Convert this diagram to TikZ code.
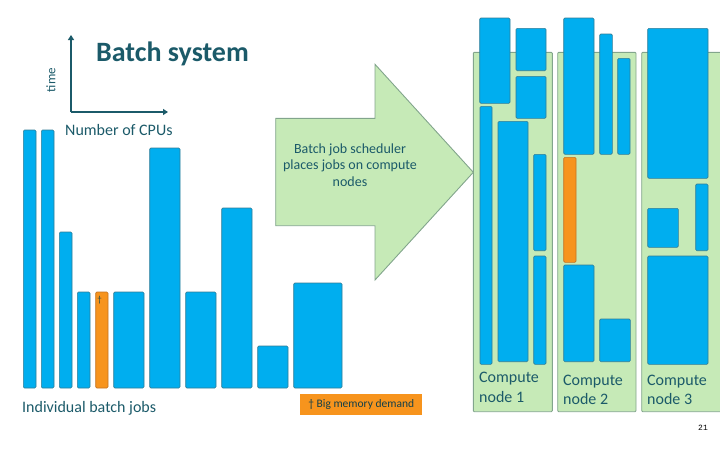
\documentclass[tikz,border=0pt]{standalone}
\usepackage{fontspec}
\setmainfont{Carlito}
\newfontfamily\monofnt{Liberation Mono}
\usetikzlibrary{arrows.meta}
\definecolor{jobblue}{RGB}{0,174,239}
\definecolor{jobedge}{RGB}{50,125,150}
\definecolor{memorange}{RGB}{247,148,29}
\definecolor{oredge}{RGB}{195,115,35}
\definecolor{nodegreen}{RGB}{198,234,183}
\definecolor{greenedge}{RGB}{130,165,140}
\definecolor{tealtext}{RGB}{27,90,105}
\tikzset{
  job/.style={draw=jobedge, fill=jobblue, line width=0.6pt, rounded corners=1.2pt, inner sep=0pt, outer sep=0pt},
  bigmem/.style={job, draw=oredge, fill=memorange},
  panel/.style={draw=greenedge, fill=nodegreen, line width=0.9pt, rounded corners=1pt, inner sep=0pt, outer sep=0pt},
  lbl/.style={text=tealtext, inner sep=0pt},
  axisline/.style={draw=tealtext, line width=1.4pt, -{Triangle[length=5pt,width=6pt]}},
  bigarrow/.style={draw=greenedge, fill=nodegreen, line width=0.9pt, line join=miter},
  panellbl/.style={lbl, anchor=base west, align=left, font=\fontsize{16}{19.5}\selectfont},
}
\newcommand{\rectnode}[6]{\node[#2, anchor=north west, minimum width={(#5)-(#3)}, minimum height={(#6)-(#4)}] (#1) at (#3,#4) {};}
\begin{document}
\begin{tikzpicture}[x=1pt,y=-1pt]
\useasboundingbox (0,0) rectangle (720,450);
% axes
\coordinate (origin) at (71,112);
\coordinate (ytop) at (71,35);
\coordinate (xend) at (168,112);
\draw[axisline] (origin) -- (ytop);
\draw[axisline] (origin) -- (xend);
\node[lbl, rotate=90, font=\fontsize{13}{15}\selectfont] (timelbl) at (51,80) {time};
\node[lbl, anchor=west, font=\fontsize{28}{32}\selectfont\bfseries] (title) at (96,54) {Batch system};
\node[lbl, anchor=west, font=\fontsize{16}{19}\selectfont] (cpus) at (65,130) {Number of CPUs};
% individual jobs
\rectnode{j1}{job}{23.3}{130}{36}{388}
\rectnode{j2}{job}{41.3}{130}{54}{388}
\rectnode{j3}{job}{59.3}{232}{72}{388}
\rectnode{j4}{job}{77.3}{292}{90}{388}
\rectnode{j5}{bigmem}{95.7}{292}{108}{388}
\rectnode{j6}{job}{113.7}{292}{144}{388}
\rectnode{j7}{job}{149.7}{148}{180}{388}
\rectnode{j8}{job}{185.7}{292}{216}{388}
\rectnode{j9}{job}{221.7}{208}{252}{388}
\rectnode{j10}{job}{257.7}{346}{288}{388}
\rectnode{j11}{job}{293.7}{283}{342}{388}
\node[text=tealtext!80!black, inner sep=0pt, font=\fontsize{9}{10}\selectfont] (dagger) at (99.5,300) {†};
\node[lbl, anchor=west, font=\fontsize{16}{19}\selectfont] (indiv) at (22,408) {Individual batch jobs};
\node[fill=memorange, text=tealtext!70!black, minimum width=122, minimum height=20.5, inner sep=0pt, anchor=north west, font=\fontsize{11.5}{13}\selectfont] (legend) at (300,394) {† Big memory demand};
% compute node panels
\rectnode{p1}{panel}{473.3}{52.3}{552.3}{411.7}
\rectnode{p2}{panel}{557.7}{52.3}{636}{411.7}
\rectnode{p3}{panel}{641.7}{52.3}{722}{411.7}
% scheduler arrow
\draw[bigarrow] (275.7,118.3) -- (375,118.3) -- (375,64.3) -- (473.3,172.3) -- (375,280) -- (375,225.7) -- (275.7,225.7) -- cycle;
\node[lbl, align=center, font=\fontsize{14}{16.5}\selectfont] (sched) at (350,165) {Batch job scheduler\\places jobs on compute\\nodes};
% node 1 jobs
\rectnode{a1}{job}{479.7}{18}{510}{103.3}
\rectnode{b1}{job}{516}{28.3}{546}{70.7}
\rectnode{c1}{job}{516}{76.3}{546}{118.3}
\rectnode{d1}{job}{480}{106.3}{492}{364.3}
\rectnode{e1}{job}{498}{121.3}{528}{361.7}
\rectnode{f1}{job}{533.7}{154.3}{546}{250.7}
\rectnode{g1}{job}{533.7}{256}{546}{364.3}
% node 2 jobs
\rectnode{h2}{job}{563.7}{18}{594}{154.3}
\rectnode{i2}{job}{599.7}{34}{612.3}{154.3}
\rectnode{k2}{job}{617.7}{58.3}{630}{154.3}
\rectnode{m2}{bigmem}{563.7}{157.3}{576}{262.3}
\rectnode{l2}{job}{563.7}{265}{594}{361.7}
\rectnode{n2}{job}{599.7}{319}{630.3}{361.7}
% node 3 jobs
\rectnode{a3}{job}{647.7}{28.3}{708}{178.3}
\rectnode{b3}{job}{695.7}{184}{708}{250.7}
\rectnode{c3}{job}{647.7}{208.3}{678.3}{247.3}
\rectnode{d3}{job}{647.7}{256}{708}{364.3}
% panel labels
\node[panellbl] (lab1) at (479,402) {Compute\\node 1};
\node[panellbl] (lab2) at (563,404.5) {Compute\\node 2};
\node[panellbl] (lab3) at (647,404.5) {Compute\\node 3};
\node[inner sep=0pt, font=\monofnt\fontsize{8}{9}\selectfont] (pagenum) at (703,428) {21};
\end{tikzpicture}
\end{document}
